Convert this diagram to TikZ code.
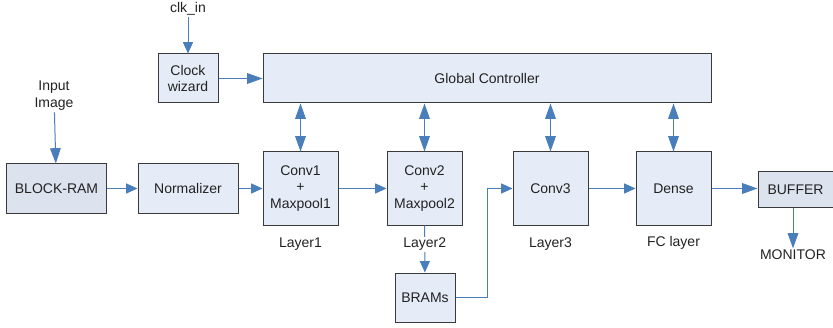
\documentclass[tikz,border=0pt]{standalone}
\usepackage{fontspec}
\setmainfont{Liberation Sans}
\usetikzlibrary{arrows.meta}

\definecolor{wire}{HTML}{4A7EBB}
\definecolor{boxfill}{HTML}{E6ECF7}
\definecolor{ramfill}{HTML}{DCE3EF}
\definecolor{edge}{HTML}{3A3A3A}
\definecolor{ink}{HTML}{222222}

\begin{document}
\begin{tikzpicture}[x=0.75pt, y=-0.75pt, font=\fontsize{10.5}{12.6}\selectfont,
  blk/.style={draw=edge, line width=0.75pt, fill=boxfill, align=center, inner sep=0pt, text=ink},
  smallbox/.style={blk, minimum width=45pt, minimum height=36.75pt},
  widebox/.style={blk, minimum width=75pt, minimum height=36.75pt},
  layerbox/.style={blk, minimum width=56.25pt, minimum height=54.75pt},
  link/.style={draw=wire, line width=0.75pt, -{Triangle[length=8.5pt,width=7.5pt]}},
  biglink/.style={draw=wire, line width=0.75pt, -{Triangle[length=11.5pt,width=8pt]}},
  lbl/.style={text=ink, align=center, inner sep=1pt}]
  \useasboundingbox (0,0) rectangle (833,328);
  % Clock and controller row
  \node[lbl] (clkin) at (188,9) {clk\_in};
  \node[smallbox] (clk) at (188,78.5) {Clock\\wizard};
  \node[blk, minimum width=336pt, minimum height=36.75pt] (ctrl) at (487,78.5) {Global Controller};
  % Data path
  \node[lbl] (img) at (54,96) {Input\\Image};
  \node[widebox, fill=ramfill] (bram) at (56.5,188.5) {BLOCK-RAM};
  \node[widebox] (norm) at (188,188.5) {Normalizer};
  \node[layerbox] (conv1) at (300.5,188.5) {Conv1\\+\\Maxpool1};
  \node[layerbox] (conv2) at (424.5,188.5) {Conv2\\+\\Maxpool2};
  \node[layerbox] (conv3) at (550.5,188.5) {Conv3};
  \node[layerbox] (dense) at (673.5,188.5) {Dense};
  \node[blk, fill=ramfill, minimum width=56.25pt, minimum height=27pt] (buf) at (795.5,190) {BUFFER};
  \node[smallbox] (brams) at (425,297.5) {BRAMs};
  % Layer names
  \node[lbl] (lay1) at (300.5,244) {Layer1};
  \node[lbl] (lay3) at (550.5,244) {Layer3};
  \node[lbl] (fc) at (673.5,243) {FC layer};
  \node[lbl] (mon) at (793,255) {MONITOR};

  % Connections
  \draw[link] (clkin) -- (clk);
  \draw[biglink] (clk) -- (ctrl);
  \draw[biglink] (img) -- (bram);
  \draw[link] (bram) -- (norm);
  \draw[link] (norm) -- (conv1);
  \draw[link] (conv1) -- (conv2);
  \draw[link] (conv2) -- (brams) node[lbl, pos=0.4, fill=white] (lay2) {Layer2};
  \draw[link] (brams.east) -- ++(24pt,0) |- (conv3.west);
  \draw[link] (conv3) -- (dense);
  \draw[biglink] (dense.east) -- (dense.east -| buf.west);
  \draw[biglink] (buf.south -| mon) -- (mon);
  \foreach \blk in {conv1,conv2,conv3,dense}
    \draw[biglink, {Triangle[length=11.5pt,width=8pt]}-{Triangle[length=11.5pt,width=8pt]}]
      (\blk.north |- ctrl.south) -- (\blk.north);
\end{tikzpicture}
\end{document}
